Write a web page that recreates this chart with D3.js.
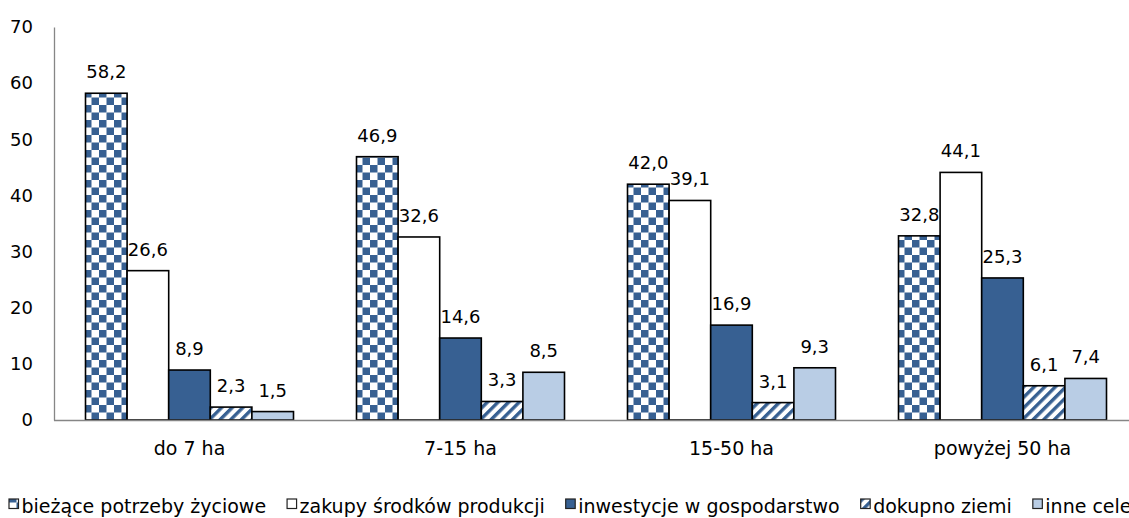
<!DOCTYPE html>
<html><head><meta charset="utf-8">
<script src="https://cdn.jsdelivr.net/npm/d3@7"></script>
<style>
body{margin:0;background:#fff;}
svg{display:block;font-family:"DejaVu Sans",Verdana,sans-serif;}
</style></head><body>
<svg id="c" width="1129" height="518"></svg>
<script>
const categories = ["do 7 ha", "7-15 ha", "15-50 ha", "powyżej 50 ha"];
const seriesNames = ["bieżące potrzeby życiowe", "zakupy środków produkcji", "inwestycje w gospodarstwo", "dokupno ziemi", "inne cele"];
const biezace = [58.2, 46.9, 42.0, 32.8];
const zakupy = [26.6, 32.6, 39.1, 44.1];
const inwestycje = [8.9, 14.6, 16.9, 25.3];
const dokupno = [2.3, 3.3, 3.1, 6.1];
const inne = [1.5, 8.5, 9.3, 7.4];
const yTicks = [0, 10, 20, 30, 40, 50, 60, 70];

const seriesValues = [biezace, zakupy, inwestycje, dokupno, inne];
const fills = ["url(#checker)", "#ffffff", "#376092", "url(#stripes)", "#b9cde5"];

const svg = d3.select("#c");
const defs = svg.append("defs");
const cell = 7.5;
const ck = defs.append("pattern").attr("id", "checker").attr("patternUnits", "userSpaceOnUse")
  .attr("width", cell * 2).attr("height", cell * 2).attr("x", 0).attr("y", 0);
ck.append("rect").attr("width", cell * 2).attr("height", cell * 2).attr("fill", "#fff");
ck.append("rect").attr("width", cell).attr("height", cell).attr("fill", "#376092");
ck.append("rect").attr("x", cell).attr("y", cell).attr("width", cell).attr("height", cell).attr("fill", "#376092");
const st = defs.append("pattern").attr("id", "stripes").attr("patternUnits", "userSpaceOnUse")
  .attr("width", 7.5).attr("height", 7.5).attr("patternTransform", "rotate(45)");
st.append("rect").attr("width", 7.5).attr("height", 7.5).attr("fill", "#fff");
st.append("rect").attr("width", 3.4).attr("height", 7.5).attr("fill", "#376092");

const mLeft = 54, mRight = 1138, mTop = 27, mBottom = 420;
const x0 = d3.scaleBand().domain(categories).range([mLeft, mRight]).paddingInner(0).paddingOuter(0);
const innerPad = 63 / 271 / 2;
const x1 = d3.scaleBand().domain(d3.range(5)).range([x0.bandwidth() * innerPad, x0.bandwidth() * (1 - innerPad)]);
const y = d3.scaleLinear().domain([0, 70]).range([mBottom, mTop]);

// y axis
const yAxis = svg.append("g").attr("transform", `translate(${mLeft},0)`)
  .call(d3.axisLeft(y).tickValues(yTicks).tickSize(0).tickPadding(21).tickFormat(d3.format("d")));
yAxis.select(".domain").attr("stroke", "#868686").attr("stroke-width", 1.3);
yAxis.selectAll("text").attr("font-size", 18).attr("fill", "#000").attr("font-family", "DejaVu Sans, Verdana, sans-serif");

// bars
const groups = svg.append("g").selectAll("g").data(categories).join("g")
  .attr("transform", d => `translate(${x0(d)},0)`);
groups.each(function (cat, ci) {
  const g = d3.select(this);
  seriesValues.forEach((vals, si) => {
    const v = vals[ci];
    g.append("rect").attr("x", x1(si)).attr("y", y(v)).attr("width", x1.bandwidth()).attr("height", y(0) - y(v))
      .attr("fill", fills[si]).attr("stroke", "#000").attr("stroke-width", 1.6);
    g.append("text").attr("x", x1(si) + x1.bandwidth() / 2).attr("y", y(v) - 15)
      .attr("text-anchor", "middle").attr("font-size", 18).attr("fill", "#000")
      .text(d3.format(".1f")(v).replace(".", ","));
  });
});

// x axis
const xAxis = svg.append("g").attr("transform", `translate(0,${mBottom})`)
  .call(d3.axisBottom(x0).tickSize(0).tickPadding(22).tickSizeOuter(0));
xAxis.select(".domain").attr("stroke", "#868686").attr("stroke-width", 1.3).attr("d", `M${mLeft},0.5H1129`);
xAxis.selectAll("text").attr("font-size", 19).attr("fill", "#000").attr("font-family", "DejaVu Sans, Verdana, sans-serif");

// legend (items laid out left to right with equal gaps)
const leg = svg.append("g");
let lx = 9;
seriesNames.forEach((name, i) => {
  const it = leg.append("g").attr("transform", `translate(${lx},0)`);
  it.append("rect").attr("x", 0).attr("y", 499).attr("width", 9.5).attr("height", 9.5)
    .attr("fill", fills[i]).attr("stroke", "#222").attr("stroke-width", 1.2);
  const t = it.append("text").attr("x", 12.5).attr("y", 513).attr("font-size", 19).attr("fill", "#000").text(name);
  lx += 12.5 + t.node().getComputedTextLength() + 21;
});
</script>
</body></html>
